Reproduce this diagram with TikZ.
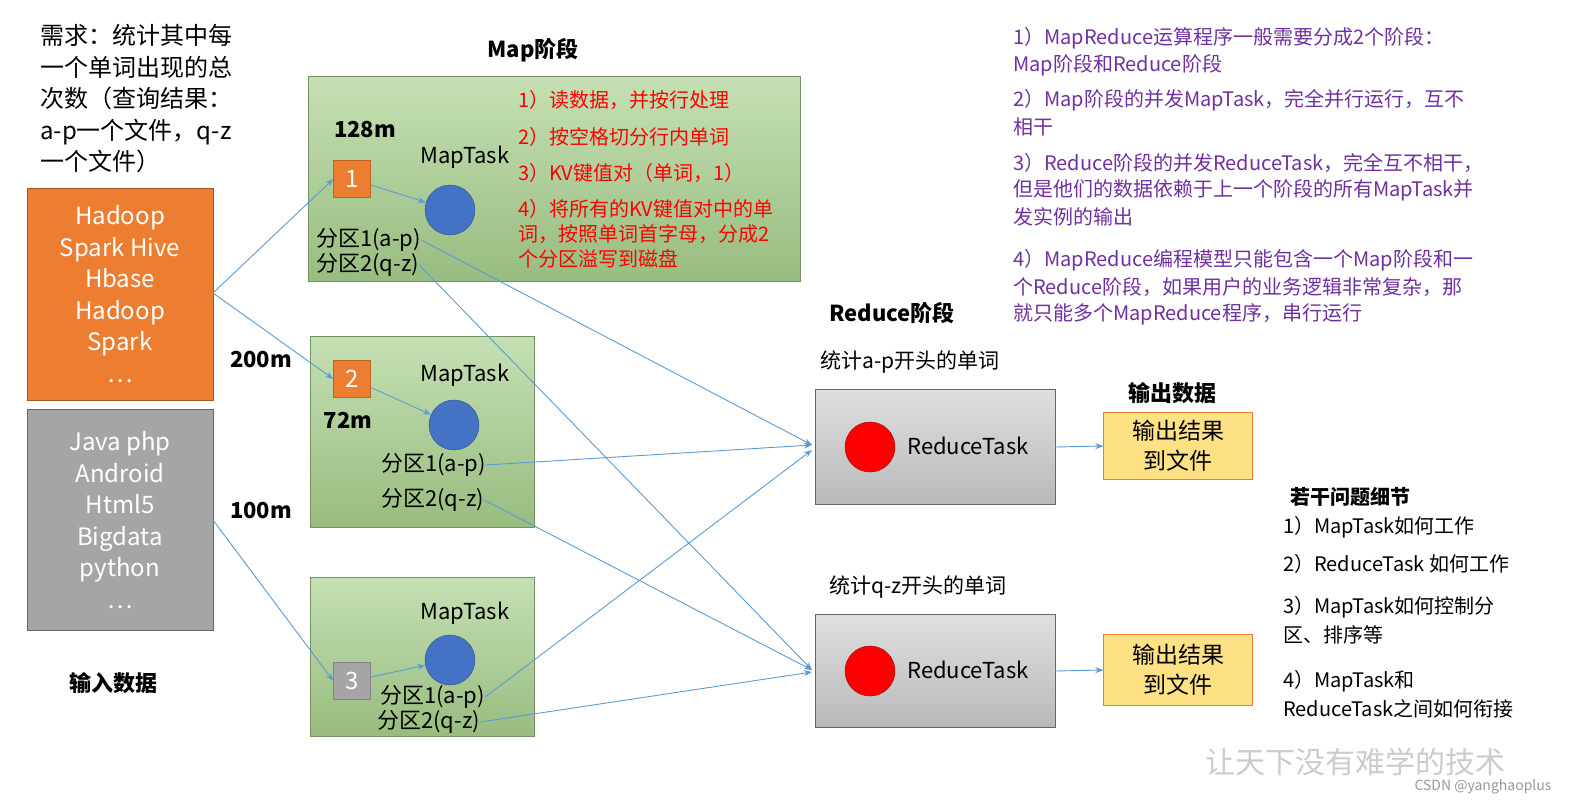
\documentclass[tikz,border=0pt]{standalone}
\usepackage{fontspec}
\setmainfont{Noto Sans CJK SC}
\usetikzlibrary{arrows.meta}
\definecolor{ora}{RGB}{237,125,49}
\definecolor{gry}{RGB}{165,165,165}
\definecolor{grn}{RGB}{169,209,142}
\definecolor{grnl}{RGB}{197,224,180}
\definecolor{blu}{RGB}{68,114,196}
\definecolor{arr}{RGB}{91,155,213}
\definecolor{pur}{RGB}{112,48,160}
\definecolor{yel}{RGB}{255,217,102}
\begin{document}
\begin{tikzpicture}[x=1pt,y=-1pt,
  every node/.style={font=\fontsize{22}{25}\selectfont},
  txt/.style={anchor=west,inner sep=0},
  bold/.style={font=\fontsize{22}{25}\selectfont\bfseries},
  src/.style={draw=ora!70!black,line width=1pt,fill=#1,text=white,align=center,font=\fontsize{24}{31.5}\selectfont},
  gbox/.style={draw=grn!70!black,top color=grnl,bottom color=grn!90!black},
  sq/.style={draw=#1!80!black,fill=#1,text=white,minimum size=37,inner sep=0,font=\fontsize{24}{25}\selectfont},
  circ/.style={circle,draw=blu!70!black,fill=blu,minimum size=50,inner sep=0},
  rcirc/.style={circle,draw=red!60!black,fill=red,minimum size=50,inner sep=0},
  rbox/.style={draw=gray!80!black,top color=gray!25,bottom color=gray!55,minimum width=240,minimum height=115},
  obox/.style={draw=ora,fill=yel!80!white,minimum width=149,minimum height=67,align=center,font=\fontsize{23}{30}\selectfont},
  a/.style={-{Stealth[length=8pt,width=6pt]},arr,line width=0.9pt},
  red text/.style={txt,text=red,font=\fontsize{20}{25}\selectfont},
  pt/.style={txt,text=pur,font=\fontsize{20}{24}\selectfont},
  qt/.style={txt,font=\fontsize{20}{24}\selectfont}]
\useasboundingbox (0,0) rectangle (1569,807);
\fill[white] (0,0) rectangle (1569,807);
\node[txt,align=left,font=\fontsize{24}{31.5}\selectfont,anchor=north west] (req) at (40,24) {需求：统计其中每\\一个单词出现的总\\次数（查询结果：\\a-p一个文件，q-z\\一个文件）};
\node[src=ora,minimum width=186,minimum height=212] (in1) at (120,294) {Hadoop\\Spark Hive\\Hbase\\Hadoop\\Spark\\…};
\node[src=gry,draw=gray!80!black,minimum width=186,minimum height=221] (in2) at (120,520) {Java php\\Android\\Html5\\Bigdata\\python\\…};
\node[bold] (inl) at (113,683) {输入数据};
\node[bold] (mapl) at (533,50) {Map阶段};
% map box 1
\node[gbox,minimum width=492,minimum height=205] (m1) at (554,179) {};
\node[bold] (s128) at (365,130) {128m};
\node[sq=ora] (q1) at (352,179) {1};
\node (mt1) at (465,157) {MapTask};
\node[circ] (c1) at (450,210) {};
\node[txt] (p11) at (316,240) {分区1(a-p)};
\node[txt] (p12) at (316,265) {分区2(q-z)};
\node[red text] (r1) at (518,100) {1）读数据，并按行处理};
\node[red text] (r2) at (518,137) {2）按空格切分行内单词};
\node[red text] (r3) at (518,173) {3）KV键值对（单词，1）};
\node[red text,align=left,anchor=north west] (r4) at (518,199) {4）将所有的KV键值对中的单\\词，按照单词首字母，分成2\\个分区溢写到磁盘};
% map box 2
\node[gbox,minimum width=224,minimum height=191] (m2) at (422,432) {};
\node[bold] (s200) at (261,360) {200m};
\node[sq=ora] (q2) at (352,379) {2};
\node[bold] (s72) at (348,420) {72m};
\node (mt2) at (465,375) {MapTask};
\node[circ] (c2) at (454,425) {};
\node[txt] (p21) at (381,465) {分区1(a-p)};
\node[txt] (p22) at (381,500) {分区2(q-z)};
% map box 3
\node[bold] (s100) at (261,511) {100m};
\node[gbox,minimum width=224,minimum height=159] (m3) at (422,657) {};
\node (mt3) at (465,613) {MapTask};
\node[circ] (c3) at (450,660) {};
\node[sq=gry] (q3) at (352,681) {3};
\node[txt] (p31) at (380,697) {分区1(a-p)};
\node[txt] (p32) at (377,722) {分区2(q-z)};
% reduce
\node[bold] (redl) at (892,313) {Reduce阶段};
\node[font=\fontsize{21}{25}\selectfont] (ap) at (910,362) {统计a-p开头的单词};
\node[rbox] (rb1) at (935,447) {};
\node[rcirc] (rc1) at (870,447) {};
\node (rt1) at (968,446) {ReduceTask};
\node[font=\fontsize{21}{25}\selectfont] (qz) at (918,587) {统计q-z开头的单词};
\node[rbox,minimum height=113] (rb2) at (935,671) {};
\node[rcirc] (rc2) at (870,671) {};
\node (rt2) at (968,670) {ReduceTask};
\node[bold] (outl) at (1172,393) {输出数据};
\node[obox] (o1) at (1178,446) {输出结果\\到文件};
\node[obox,minimum height=71] (o2) at (1178,670) {输出结果\\到文件};
% purple
\node[pt] (t1a) at (1013,38) {1）MapReduce运算程序一般需要分成2个阶段：};
\node[pt] (t1b) at (1013,65) {Map阶段和Reduce阶段};
\node[pt] (t2a) at (1013,100) {2）Map阶段的并发MapTask，完全并行运行，互不};
\node[pt] (t2b) at (1013,127) {相干};
\node[pt] (t3a) at (1013,163) {3）Reduce阶段的并发ReduceTask，完全互不相干，};
\node[pt] (t3b) at (1013,190) {但是他们的数据依赖于上一个阶段的所有MapTask并};
\node[pt] (t3c) at (1013,217) {发实例的输出};
\node[pt] (t4a) at (1013,260) {4）MapReduce编程模型只能包含一个Map阶段和一};
\node[pt] (t4b) at (1013,287) {个Reduce阶段，如果用户的业务逻辑非常复杂，那};
\node[pt] (t4c) at (1013,314) {就只能多个MapReduce程序，串行运行};
% questions
\node[bold,font=\fontsize{20}{24}\selectfont\bfseries] (ql) at (1350,497) {若干问题细节};
\node[qt] (qa) at (1283,527) {1）MapTask如何工作};
\node[qt] (qb) at (1283,564) {2）ReduceTask 如何工作};
\node[qt] (qc) at (1283,607) {3）MapTask如何控制分};
\node[qt] (qc2) at (1283,635) {区、排序等};
\node[qt] (qd) at (1283,681) {4）MapTask和};
\node[qt] (qd2) at (1283,709) {ReduceTask之间如何衔接};
\node[text=gray!40,font=\fontsize{30}{30}\selectfont\itshape] (wm) at (1355,762) {让天下没有难学的技术};
\node[text=gray!80,font=\fontsize{14}{16}\selectfont,anchor=east] (csdn) at (1555,787) {CSDN @yanghaoplus};
% arrows
\coordinate (o) at (213,293);
\coordinate (g) at (213,520);
\draw[a] (o) -- (q1.west);
\draw[a] (o) -- (q2.west);
\draw[a] (g) -- (q3.west);
\draw[a] (q1) -- (c1);
\draw[a] (q2) -- (c2);
\draw[a] (q3) -- (c3);
\coordinate (r1in) at (812,445);
\coordinate (r2in) at (812,670);
\draw[a] (p11.east) -- (r1in);
\draw[a] (p12.east) -- (r2in);
\draw[a] (p21.east) -- (r1in);
\draw[a] (p22.east) -- (r2in);
\draw[a] (p31.east) -- (812,450);
\draw[a] (p32.east) -- (812,672);
\draw[a] (rb1.east) -- (o1.west);
\draw[a] (rb2.east) -- (o2.west);
\end{tikzpicture}
\end{document}
